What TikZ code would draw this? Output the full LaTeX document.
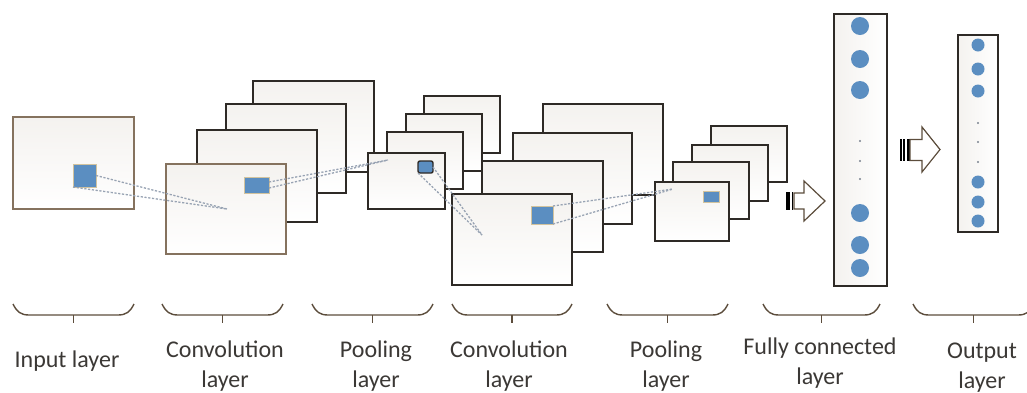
\documentclass[tikz,border=0pt]{standalone}
\usepackage{fontspec}
\setmainfont{Carlito}
\usetikzlibrary{fit}

\definecolor{framedark}{HTML}{2E2A26}
\definecolor{framebrown}{HTML}{85725E}
\definecolor{paperTop}{HTML}{F4F2EF}
\definecolor{paperBot}{HTML}{FFFFFF}
\definecolor{unitblue}{HTML}{5B8EC1}
\definecolor{unitedge}{HTML}{D2C39E}
\definecolor{probegray}{HTML}{98A3B3}
\definecolor{bracecol}{HTML}{5C4D3C}
\definecolor{labelcol}{HTML}{3B3835}

\begin{document}
\begin{tikzpicture}[x=1pt,y=-1pt,
  layerbox/.style={inner sep=0pt, outer sep=0pt, draw=framedark, line width=1.6pt,
                   top color=paperTop, bottom color=paperBot},
  frontbox/.style={layerbox, draw=framebrown},
  patch/.style={inner sep=0pt, outer sep=0pt, fill=unitblue, draw=unitedge, line width=0.6pt},
  poolpatch/.style={patch, draw=framedark, line width=1.4pt, rounded corners=2pt},
  probe/.style={draw=probegray, line width=1.3pt, dash pattern=on 2.2pt off 1.6pt},
  unit/.style={circle, fill=unitblue, inner sep=0pt, minimum size=#1},
  gap/.style={circle, fill=probegray!80!black, inner sep=0pt, minimum size=2.4pt},
  bracket/.style={draw=bracecol, line width=1.4pt},
  caption/.style={text=labelcol, font=\fontsize{24}{30}\selectfont, align=center},
  arrowbody/.style={draw=bracecol, line width=1.2pt, fill=white, line join=miter},
  stripe/.style={fill=black}]
\useasboundingbox (0,0) rectangle (1027,392);

% ---- input layer ----
\node[frontbox, fit={(13,117) (134,209)}] (input) {};
\node[patch, fit={(73,164) (96,187)}] (insq) {};

% ---- first convolution stack (back to front) ----
\node[layerbox, fit={(253,81) (374,172)}] (conva4) {};
\node[layerbox, fit={(226,104) (346,193)}] (conva3) {};
\node[layerbox, fit={(197,130) (317,222)}] (conva2) {};
\node[frontbox, fit={(166,164) (286,254)}] (conva1) {};
\node[patch, fit={(244,177) (269,193)}] (convasq) {};

% ---- first pooling stack ----
\node[layerbox, fit={(424,96) (500,153)}] (poola4) {};
\node[layerbox, fit={(406,114) (482,171)}] (poola3) {};
\node[layerbox, fit={(387,132) (463,189)}] (poola2) {};
\node[layerbox, fit={(368,153) (445,209)}] (poola1) {};
\node[poolpatch, fit={(418,161) (433,173)}] (poolasq) {};

% ---- second convolution stack ----
\node[layerbox, fit={(543,104) (663,195)}] (convb4) {};
\node[layerbox, fit={(513,133) (632,224)}] (convb3) {};
\node[layerbox, fit={(482,161) (603,252)}] (convb2) {};
\node[layerbox, fit={(452,194) (572,285)}] (convb1) {};
\node[patch, fit={(531,206) (553,224)}] (convbsq) {};

% ---- second pooling stack ----
\node[layerbox, fit={(711,126) (787,182)}] (poolb4) {};
\node[layerbox, fit={(692,145) (768,201)}] (poolb3) {};
\node[layerbox, fit={(673,162) (749,219)}] (poolb2) {};
\node[layerbox, fit={(655,182) (729,241)}] (poolb1) {};
\node[patch, fit={(703,191) (719,202)}] (poolbsq) {};

% ---- receptive-field probes ----
\coordinate (ta) at (227,209);
\coordinate (tb) at (388,160);
\coordinate (tc) at (482,235);
\coordinate (td) at (673,189);
\draw[probe] (insq.east) -- (ta);
\draw[probe] (insq.south west) -- (ta);
\draw[probe] ([yshift=-3pt]convasq.east) -- (tb);
\draw[probe] ([yshift=3pt]convasq.east) -- (tb);
\draw[probe] (poolasq.south west) -- (tc);
\draw[probe] (poolasq.east) -- (tc);
\draw[probe] (convbsq.north east) -- (td);
\draw[probe] (convbsq.south east) -- (td);

% ---- fully connected layer ----
\node[layerbox, fit={(834,14) (887,286)}, left color=paperTop, right color=paperBot] (fc) {};
\foreach \y [count=\i] in {26,59,90,213,245,268}
  \node[unit=18pt] (fcu\i) at (860,\y) {};
\foreach \y [count=\i] in {141,161,179}
  \node[gap] (fcg\i) at (860,\y) {};

% ---- output layer ----
\node[layerbox, fit={(958,35) (998,232)}, left color=paperTop, right color=paperBot] (out) {};
\foreach \y [count=\i] in {45,69,91,182,202,221}
  \node[unit=13pt] (ou\i) at (978,\y) {};
\foreach \y [count=\i] in {123,142,162}
  \node[gap] (og\i) at (978,\y) {};

% ---- striped block arrows ----
\fill[stripe] (786,192) rectangle (790,210);
\fill[stripe] (791.6,192) rectangle (793.4,210);
\draw[arrowbody] (794,193) -- (804,193) -- (804,181) -- (825,201) -- (804,221) -- (804,209) -- (794,209) -- cycle;

\fill[stripe] (900,139) rectangle (901.6,161);
\fill[stripe] (903.4,139) rectangle (905,161);
\fill[stripe] (906.8,139) rectangle (910,161);
\draw[arrowbody] (910,139.5) -- (922,139.5) -- (922,127) -- (940,149.5) -- (922,172) -- (922,160.5) -- (910,160.5) -- cycle;

% ---- braces under each stage ----
\foreach \a/\b in {13/134, 162/283, 312/433, 452/572, 607/728, 763/880, 913/1034}{
  \draw[bracket] (\a,304) .. controls (\a+4,312) and (\a+8,315) .. (\a+16,315)
                 -- (\b-16,315) .. controls (\b-8,315) and (\b-4,312) .. (\b,304);
  \draw[bracket] ({(\a+\b)/2},315) -- ({(\a+\b)/2},323);
}

% ---- captions ----
\node[caption] (capin)   at (67,361)  {Input layer};
\node[caption] (capca)   at (225,366) {Convolution\\layer};
\node[caption] (cappa)   at (376,366) {Pooling\\layer};
\node[caption] (capcb)   at (509,366) {Convolution\\layer};
\node[caption] (cappb)   at (666,366) {Pooling\\layer};
\node[caption] (capfc)   at (820,363) {Fully connected\\layer};
\node[caption] (capout)  at (982,368) {Output\\layer};
\end{tikzpicture}
\end{document}
